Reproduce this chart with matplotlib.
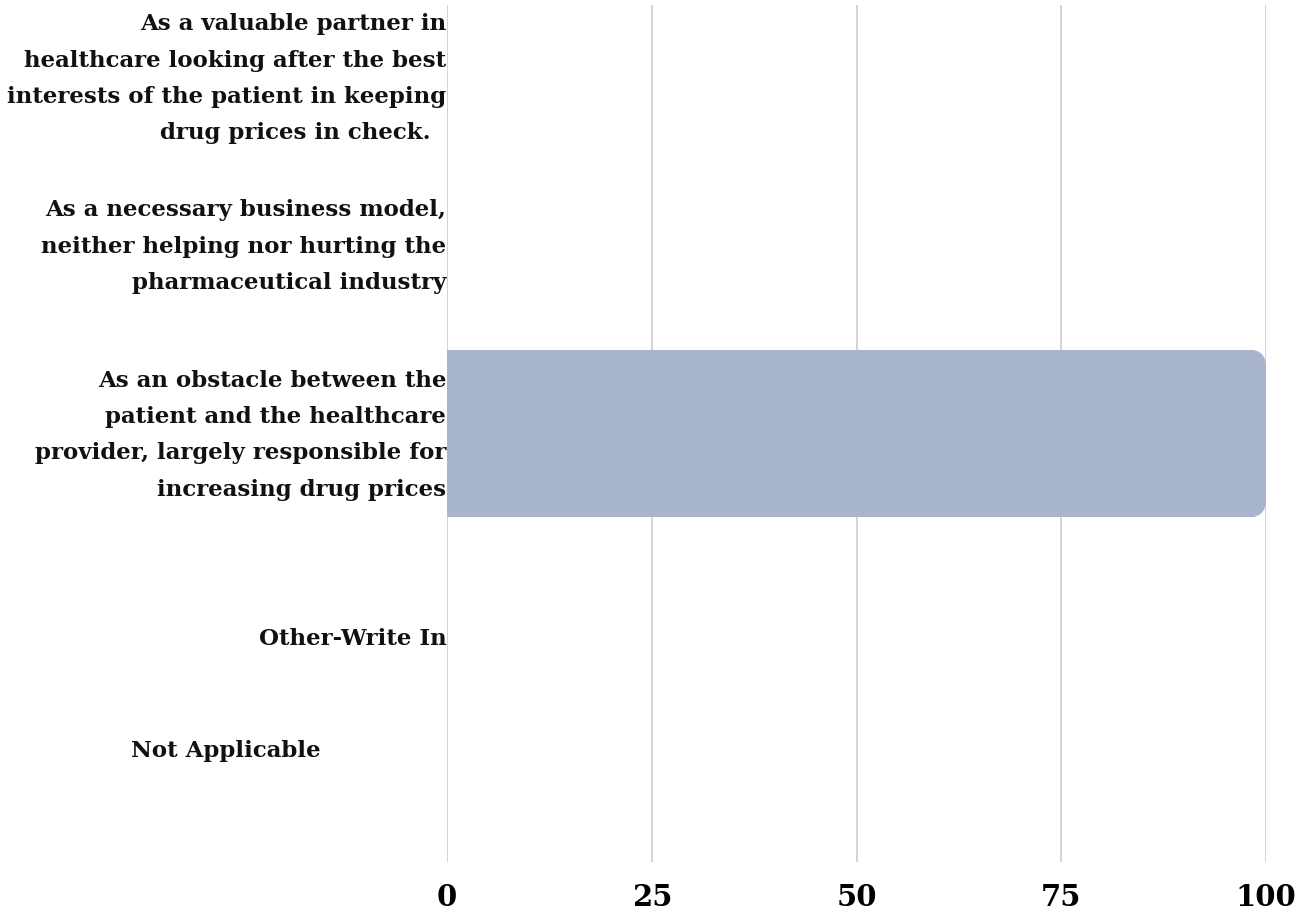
import matplotlib
matplotlib.use("Agg")
import matplotlib.pyplot as plt
from matplotlib.patches import FancyBboxPatch
import matplotlib.transforms as mtransforms

categories = [
    "As a valuable partner in\nhealthcare looking after the best\ninterests of the patient in keeping\ndrug prices in check.  ",
    "As a necessary business model,\nneither helping nor hurting the\npharmaceutical industry",
    "As an obstacle between the\npatient and the healthcare\nprovider, largely responsible for\nincreasing drug prices",
    "Other-Write In",
    "Not Applicable",
]
values = [0, 0, 100, 0, 0]
xticks = [0, 25, 50, 75, 100]

# vertical placement of each category label (data units) and right-edge shift (axes units)
label_y = [-0.07, 0.91, 2.01, 3.2, 3.85]
label_x = [0.0, 0.0, 0.0, 0.0, -0.153]

bar_color = "#A9B5CD"
font = "DejaVu Serif"

fig = plt.figure(figsize=(12.96, 9.15), dpi=100)
ax = fig.add_axes([0.345, 0.058, 0.632, 0.9365])

ax.set_xlim(0, 100)
ax.set_ylim(len(categories) - 0.5, -0.5)

bar_h = 0.98
bars = ax.barh(range(len(categories)), values, height=bar_h, color=bar_color,
               edgecolor="none", zorder=2)

# round only the outer (right) corners: clip each bar to a rounded box that
# extends past the baseline on the left
px_per_x = 819 / 100
px_per_y = 857 / len(categories)
aspect = px_per_x / px_per_y
for rect, v in zip(bars, values):
    if v <= 0:
        continue
    y0 = rect.get_y()
    clip = FancyBboxPatch((-10, y0), v + 10, bar_h,
                          boxstyle="round,pad=0,rounding_size=2.2",
                          mutation_aspect=aspect, transform=ax.transData)
    rect.set_clip_path(clip)

ax.set_xticks(xticks)
ax.set_xticklabels([str(t) for t in xticks], fontsize=21, fontweight="bold",
                   family=font)
ax.tick_params(axis="x", length=0, pad=15)
ax.set_yticks([])
ax.grid(axis="x", color="#CCCCCC", linewidth=1.2, zorder=0)
ax.set_axisbelow(True)
for s in ax.spines.values():
    s.set_visible(False)

trans = mtransforms.blended_transform_factory(ax.transAxes, ax.transData)
for lab, ly, lx in zip(categories, label_y, label_x):
    ax.text(lx - 0.001, ly, lab, transform=trans, ha="right", va="center",
            multialignment="right", fontsize=16.5, fontweight="bold",
            family=font, linespacing=1.85, color="#111111")

fig.savefig("out.png", dpi=100)
